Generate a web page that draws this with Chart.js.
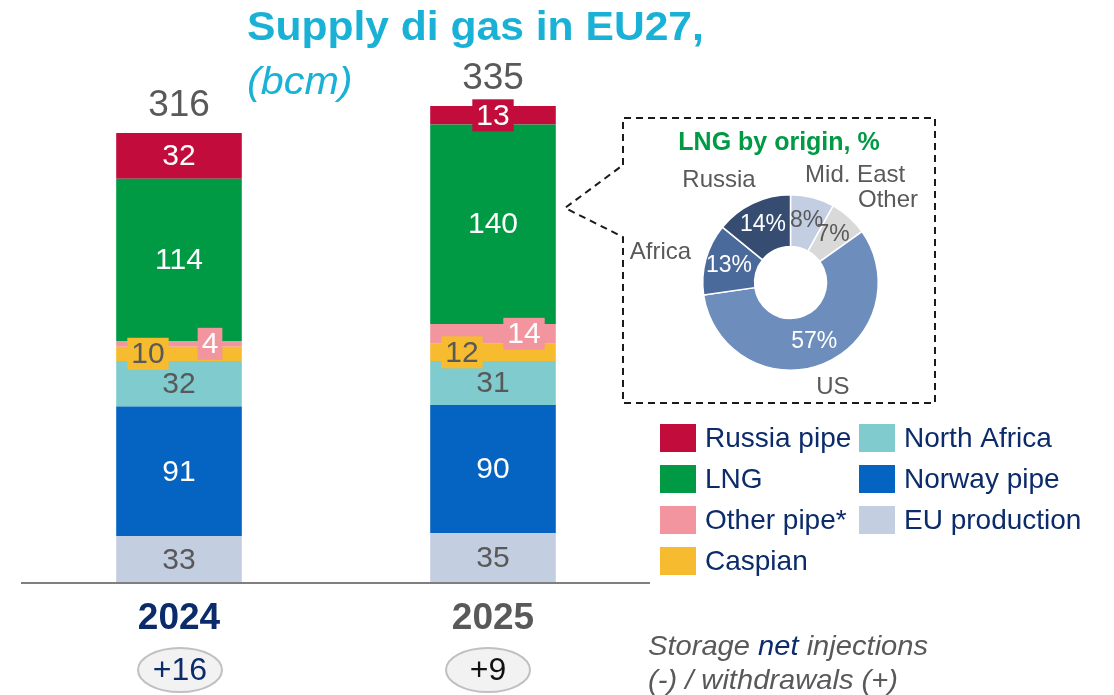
<!DOCTYPE html>
<html>
<head>
<meta charset="utf-8">
<script src="https://cdn.jsdelivr.net/npm/chart.js@4.4.1/dist/chart.umd.min.js"></script>
<style>
  html, body { margin: 0; padding: 0; background: #ffffff; }
  #wrap { position: relative; width: 1114px; height: 695px; overflow: hidden; }
  #bars { position: absolute; left: 0; top: 0; }
  #donut { position: absolute; left: 560px; top: 110px; }
</style>
</head>
<body>
<div id="wrap">
  <canvas id="bars" width="1114" height="695"></canvas>
  <canvas id="donut" width="410" height="300"></canvas>
</div>
<script>
// ---------- DATA ----------
const categories = ['2024', '2025'];
const euProduction = [33, 35];
const norwayPipe = [91, 90];
const northAfrica = [32, 31];
const caspian = [10, 12];
const otherPipe = [4, 14];
const lng = [114, 140];
const russiaPipe = [32, 13];
const storageNet = ['+16', '+9'];

const lngOriginLabels = ['Mid. East', 'Other', 'US', 'Africa', 'Russia'];
const lngOriginShares = [8, 7, 57, 13, 14];

// ---------- STYLE ----------
const FONT = '"Liberation Sans", Arial, Helvetica, sans-serif';
const GREY = '#595959';
const NAVY = '#0C2B6B';

const barDatasets = [
  { label: 'EU production', data: euProduction, backgroundColor: '#C3CEE1', labelColor: GREY, labelShift: 0 },
  { label: 'Norway pipe',   data: norwayPipe,   backgroundColor: '#0563C1', labelColor: '#FFFFFF', labelShift: 0 },
  { label: 'North Africa',  data: northAfrica,  backgroundColor: '#7FCBCE', labelColor: GREY, labelShift: 0 },
  { label: 'Caspian',       data: caspian,      backgroundColor: '#F6BB2F', labelColor: GREY, labelShift: -31 },
  { label: 'Other pipe*',   data: otherPipe,    backgroundColor: '#F3959F', labelColor: '#FFFFFF', labelShift: 31 },
  { label: 'LNG',           data: lng,          backgroundColor: '#009A44', labelColor: '#FFFFFF', labelShift: 0 },
  { label: 'Russia pipe',   data: russiaPipe,   backgroundColor: '#C20C3B', labelColor: '#FFFFFF', labelShift: 0 }
];

function stretchedText(ctx, txt, x, y, sx) {
  ctx.save();
  ctx.translate(x, y);
  ctx.scale(sx, 1);
  ctx.fillText(txt, 0, 0);
  ctx.restore();
}

const barDecor = {
  id: 'barDecor',
  afterDatasetsDraw(chart) {
    const ctx = chart.ctx;
    const area = chart.chartArea;
    ctx.save();
    // axis line
    ctx.strokeStyle = '#7F7F7F';
    ctx.lineWidth = 2;
    ctx.beginPath();
    ctx.moveTo(area.left - 1, area.bottom);
    ctx.lineTo(area.right, area.bottom);
    ctx.stroke();

    // segment labels
    ctx.textAlign = 'center';
    ctx.textBaseline = 'middle';
    chart.data.datasets.forEach((ds, i) => {
      const meta = chart.getDatasetMeta(i);
      meta.data.forEach((bar, j) => {
        const p = bar.getProps(['x', 'y', 'base'], true);
        const h = p.base - p.y;
        const cy = (p.y + p.base) / 2;
        const txt = String(ds.data[j]);
        ctx.font = '30px ' + FONT;
        const boxed = h < 32;
        const tx = p.x + (boxed ? ds.labelShift : 0);
        if (boxed) {
          const w = ctx.measureText(txt).width + 8;
          ctx.fillStyle = ds.backgroundColor;
          ctx.fillRect(tx - w / 2, cy - 16, w, 32);
        }
        ctx.fillStyle = ds.labelColor;
        ctx.fillText(txt, tx, cy + 1);
      });
    });

    // totals, years, storage ellipses
    const yScale = chart.scales.y;
    const lastMeta = chart.getDatasetMeta(chart.data.datasets.length - 1);
    categories.forEach((cat, j) => {
      const total = chart.data.datasets.reduce((s, ds) => s + ds.data[j], 0);
      const x = lastMeta.data[j].x;
      const top = yScale.getPixelForValue(total);
      ctx.font = '37px ' + FONT;
      ctx.fillStyle = GREY;
      ctx.fillText(String(total), x, top - 27);

      ctx.font = 'bold 37px ' + FONT;
      ctx.fillStyle = j === 0 ? NAVY : GREY;
      ctx.fillText(cat, x, area.bottom + 36);

      const ex = x + (j === 0 ? 1 : -5);
      const ey = area.bottom + 87;
      ctx.beginPath();
      ctx.ellipse(ex, ey, 42, 22, 0, 0, Math.PI * 2);
      ctx.fillStyle = '#F2F2F2';
      ctx.fill();
      ctx.lineWidth = 2;
      ctx.strokeStyle = '#C0C0C0';
      ctx.stroke();
      ctx.font = '32px ' + FONT;
      ctx.fillStyle = j === 0 ? NAVY : '#111111';
      ctx.fillText(storageNet[j], ex, ey + 1);
    });

    // title
    ctx.textAlign = 'left';
    ctx.textBaseline = 'alphabetic';
    ctx.fillStyle = '#1AB1D6';
    ctx.font = 'bold 40px ' + FONT;
    stretchedText(ctx, 'Supply di gas in EU27,', 247, 40, 1.065);
    ctx.font = 'italic 39px ' + FONT;
    stretchedText(ctx, '(bcm)', 247, 94, 1.06);

    // storage note
    ctx.font = 'italic 28px ' + FONT;
    ctx.save();
    ctx.translate(648, 0);
    ctx.scale(1.04, 1);
    let sx = 0;
    ctx.fillStyle = GREY;
    ctx.fillText('Storage ', sx, 655);
    sx += ctx.measureText('Storage ').width;
    ctx.fillStyle = NAVY;
    ctx.fillText('net', sx, 655);
    sx += ctx.measureText('net').width;
    ctx.fillStyle = GREY;
    ctx.fillText(' injections', sx, 655);
    ctx.fillText('(-) / withdrawals (+)', 0, 689);
    ctx.restore();

    // legend
    const order = chart.data.datasets.slice().reverse();
    ctx.font = '28px ' + FONT;
    ctx.textBaseline = 'middle';
    order.forEach((ds, k) => {
      const col = k < 4 ? 0 : 1;
      const row = k < 4 ? k : k - 4;
      const lx = col === 0 ? 660 : 859;
      const ly = 438 + row * 41;
      ctx.fillStyle = ds.backgroundColor;
      ctx.fillRect(lx, ly - 14, 36, 28);
      ctx.fillStyle = NAVY;
      ctx.fillText(ds.label, lx + 45, ly + 1);
    });
    ctx.restore();
  }
};

new Chart(document.getElementById('bars'), {
  type: 'bar',
  data: { labels: categories, datasets: barDatasets },
  options: {
    responsive: false,
    animation: false,
    events: [],
    layout: { padding: { left: 22, right: 464, top: 42, bottom: 112 } },
    datasets: { bar: { barPercentage: 1, categoryPercentage: 0.4, borderWidth: 0 } },
    plugins: { legend: { display: false }, tooltip: { enabled: false }, title: { display: false } },
    scales: {
      x: { stacked: true, display: false },
      y: { stacked: true, display: false, min: 0, max: 380 }
    }
  },
  plugins: [barDecor]
});

// ---------- DONUT ----------
const donutColors = ['#C3CEE2', '#D9D9D9', '#6D8DBD', '#4A6A9C', '#364D71'];
const donutValueColors = [GREY, GREY, '#FFFFFF', '#FFFFFF', '#FFFFFF'];
const donutNamePos = [[31, 1.43], [50, 1.45], [158, 1.29], [283, 1.52], [325, 1.42]];

const donutDecor = {
  id: 'donutDecor',
  afterDraw(chart) {
    const ctx = chart.ctx;
    ctx.save();
    // dashed box with callout
    ctx.strokeStyle = '#1A1A1A';
    ctx.lineWidth = 2;
    ctx.setLineDash([7, 5]);
    ctx.beginPath();
    ctx.moveTo(63, 55);
    ctx.lineTo(63, 8);
    ctx.lineTo(375, 8);
    ctx.lineTo(375, 293);
    ctx.lineTo(63, 293);
    ctx.lineTo(63, 127);
    ctx.lineTo(5, 98);
    ctx.lineTo(63, 55);
    ctx.stroke();
    ctx.setLineDash([]);

    // title
    ctx.textAlign = 'center';
    ctx.textBaseline = 'alphabetic';
    ctx.fillStyle = '#009A44';
    ctx.font = 'bold 25px ' + FONT;
    ctx.fillText('LNG by origin, %', 219, 40);

    const meta = chart.getDatasetMeta(0);
    ctx.textBaseline = 'middle';
    meta.data.forEach((arc, i) => {
      const p = arc.getProps(['x', 'y', 'startAngle', 'endAngle', 'innerRadius', 'outerRadius'], true);
      const mid = (p.startAngle + p.endAngle) / 2;
      const r = (p.innerRadius + p.outerRadius) / 2 + 2;
      ctx.font = '23px ' + FONT;
      ctx.fillStyle = donutValueColors[i];
      ctx.fillText(chart.data.datasets[0].data[i] + '%', p.x + r * Math.cos(mid), p.y + r * Math.sin(mid));

      const a = donutNamePos[i][0] * Math.PI / 180;
      const R = p.outerRadius * donutNamePos[i][1];
      ctx.font = '24px ' + FONT;
      ctx.fillStyle = GREY;
      ctx.fillText(chart.data.labels[i], p.x + R * Math.sin(a), p.y - R * Math.cos(a));
    });
    ctx.restore();
  }
};

new Chart(document.getElementById('donut'), {
  type: 'doughnut',
  data: {
    labels: lngOriginLabels,
    datasets: [{
      data: lngOriginShares,
      backgroundColor: donutColors,
      borderColor: '#FFFFFF',
      borderWidth: 1.5,
      hoverOffset: 0
    }]
  },
  options: {
    responsive: false,
    animation: false,
    events: [],
    cutout: '41%',
    layout: { padding: { left: 142, right: 91, top: 84, bottom: 39 } },
    plugins: { legend: { display: false }, tooltip: { enabled: false } }
  },
  plugins: [donutDecor]
});
</script>
</body>
</html>
